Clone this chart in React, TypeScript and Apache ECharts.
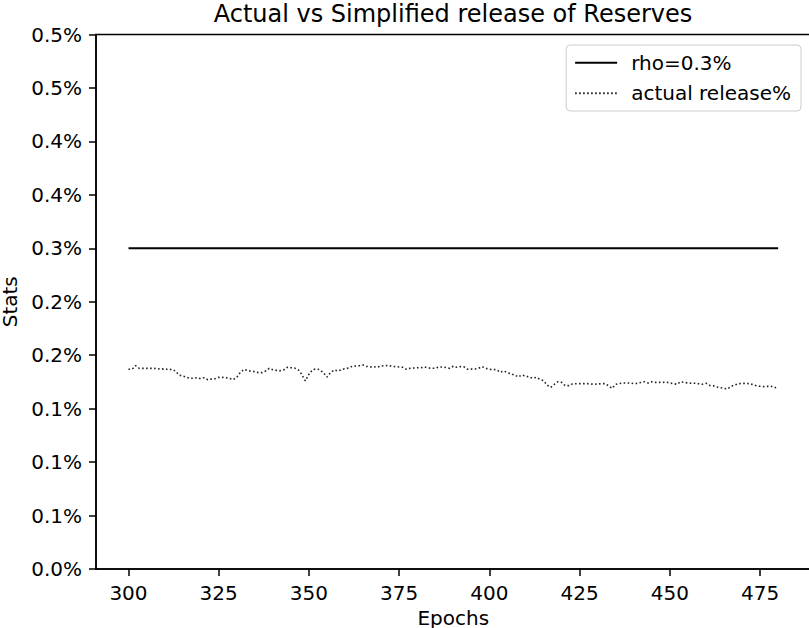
import React, { useEffect, useRef } from "react";
import * as echarts from "echarts";

const chartTitle = "Actual vs Simplified release of Reserves";
const xAxisName = "Epochs";
const yAxisName = "Stats";
const rhoName = "rho=0.3%";
const actualName = "actual release%";

const startEpoch = 300;
const rhoValue = 0.3; // percent

// actual release (percent), one per epoch 300..480
const actualRelease = [
  0.1868, 0.1868, 0.1902, 0.1877, 0.1877, 0.1877, 0.1877, 0.1877, 0.1874, 0.1868,
  0.1874, 0.1865, 0.1868, 0.1852, 0.1815, 0.1805, 0.1796, 0.1784, 0.1784, 0.179,
  0.178, 0.179, 0.1771, 0.1776, 0.178, 0.1793, 0.1793, 0.179, 0.1784, 0.1771,
  0.1793, 0.184, 0.1868, 0.1858, 0.185, 0.1846, 0.1837, 0.1837, 0.1852, 0.1877,
  0.1865, 0.1858, 0.1855, 0.1862, 0.1887, 0.1883, 0.188, 0.1865, 0.1821, 0.176,
  0.1821, 0.1865, 0.1871, 0.1865, 0.1837, 0.1796, 0.1837, 0.1862, 0.1852, 0.1865,
  0.1874, 0.188, 0.1896, 0.1899, 0.1902, 0.1908, 0.1895, 0.189, 0.1893, 0.1887,
  0.1899, 0.1902, 0.1905, 0.1896, 0.1893, 0.189, 0.1887, 0.1868, 0.1877, 0.188,
  0.1883, 0.1883, 0.189, 0.188, 0.1878, 0.1877, 0.189, 0.189, 0.1884, 0.1877,
  0.1897, 0.1887, 0.1893, 0.189, 0.1868, 0.187, 0.1871, 0.1877, 0.1893, 0.1877,
  0.1868, 0.1866, 0.1865, 0.184, 0.1852, 0.1837, 0.1826, 0.1815, 0.1796, 0.1815,
  0.1805, 0.1796, 0.1784, 0.1793, 0.1774, 0.1762, 0.172, 0.1699, 0.1728, 0.1752,
  0.1746, 0.1715, 0.1715, 0.1731, 0.1733, 0.1734, 0.1734, 0.1734, 0.1731, 0.1728,
  0.1731, 0.1734, 0.1734, 0.1715, 0.169, 0.1728, 0.1734, 0.174, 0.174, 0.174,
  0.1734, 0.1737, 0.1745, 0.1752, 0.174, 0.1752, 0.1746, 0.1746, 0.1746, 0.1749,
  0.174, 0.1734, 0.1728, 0.1752, 0.1746, 0.174, 0.1737, 0.1737, 0.1733, 0.1728,
  0.1737, 0.1718, 0.1715, 0.1703, 0.1696, 0.169, 0.1684, 0.1709, 0.1721, 0.1734,
  0.1736, 0.1737, 0.1734, 0.1725, 0.1715, 0.1709, 0.1706, 0.1708, 0.1709, 0.1697,
  0.17,
];

const xTickValues = [300, 325, 350, 375, 400, 425, 450, 475];
const yTickLabels = ["0.0%", "0.1%", "0.1%", "0.1%", "0.2%", "0.2%", "0.3%", "0.4%", "0.4%", "0.5%", "0.5%"];
const yStep = 0.05;

const FONT = "DejaVu Sans";
const INK = "#000";
const SPINE = "#000";

export default function App() {
  const ref = useRef<HTMLDivElement>(null);
  useEffect(() => {
    if (!ref.current) return;
    const chart = echarts.init(ref.current, undefined, { renderer: "svg" });
    const epochs = actualRelease.map((_, i) => startEpoch + i);
    const actualData = actualRelease.map((v, i) => [epochs[i], v]);
    const rhoData = epochs.map((e) => [e, rhoValue]);

    chart.setOption({
      animation: false,
      backgroundColor: "#fff",
      textStyle: { fontFamily: FONT },
      title: {
        text: chartTitle,
        left: 453,
        top: 2,
        padding: 0,
        textAlign: "center",
        textStyle: { fontFamily: FONT, fontSize: 24, fontWeight: "normal", color: INK },
      },
      grid: {
        left: 96,
        top: 34.5,
        width: 714.6,
        height: 534.5,
        containLabel: false,
        outerBoundsMode: "none",
        show: true,
        borderColor: SPINE,
        borderWidth: 1.5,
        backgroundColor: "transparent",
      },
      legend: {
        orient: "vertical",
        right: 8,
        top: 45,
        padding: [7.7, 10, 7.7, 8],
        itemWidth: 42,
        itemHeight: 14,
        itemGap: 10.6,
        borderColor: "#ccc",
        borderWidth: 1,
        borderRadius: 4,
        backgroundColor: "rgba(255,255,255,0.8)",
        itemStyle: { opacity: 0 },
        textStyle: { fontFamily: FONT, fontSize: 20, color: INK, padding: [0, 0, 0, 9] },
        data: [rhoName, actualName],
      },
      xAxis: {
        type: "value",
        min: 291,
        max: 489,
        name: xAxisName,
        nameLocation: "middle",
        nameGap: 36,
        nameTextStyle: { fontFamily: FONT, fontSize: 20, color: INK },
        axisLine: { show: true, lineStyle: { color: SPINE, width: 1.5 } },
        axisTick: { show: true, length: 7, lineStyle: { color: SPINE, width: 1.5 }, customValues: xTickValues },
        axisLabel: { fontFamily: FONT, fontSize: 20, color: INK, margin: 14, customValues: xTickValues },
        splitLine: { show: false },
      },
      yAxis: {
        type: "value",
        min: 0,
        max: 0.5,
        interval: yStep,
        name: yAxisName,
        nameLocation: "middle",
        nameGap: 75,
        nameRotate: 90,
        nameTextStyle: { fontFamily: FONT, fontSize: 20, color: INK },
        axisLine: { show: true, lineStyle: { color: SPINE, width: 1.5 } },
        axisTick: { show: true, length: 7, lineStyle: { color: SPINE, width: 1.5 } },
        axisLabel: {
          fontFamily: FONT,
          fontSize: 20,
          color: INK,
          margin: 14,
          formatter: (v: number) => yTickLabels[Math.round(v / yStep)] ?? "",
        },
        splitLine: { show: false },
      },
      series: [
        {
          name: rhoName,
          type: "line",
          data: rhoData,
          symbol: "none",
          lineStyle: { color: INK, width: 2, type: "solid" },
          itemStyle: { color: INK },
        },
        {
          name: actualName,
          type: "line",
          data: actualData,
          symbol: "none",
          lineStyle: { color: "#222", width: 1.6, type: [1.6, 2.4] },
          itemStyle: { color: "#222" },
        },
      ],
    });
    return () => chart.dispose();
  }, []);
  return (
    <div
      ref={ref}
      style={{ position: "fixed", left: 0, top: 0, width: 809, height: 628 }}
    />
  );
}
